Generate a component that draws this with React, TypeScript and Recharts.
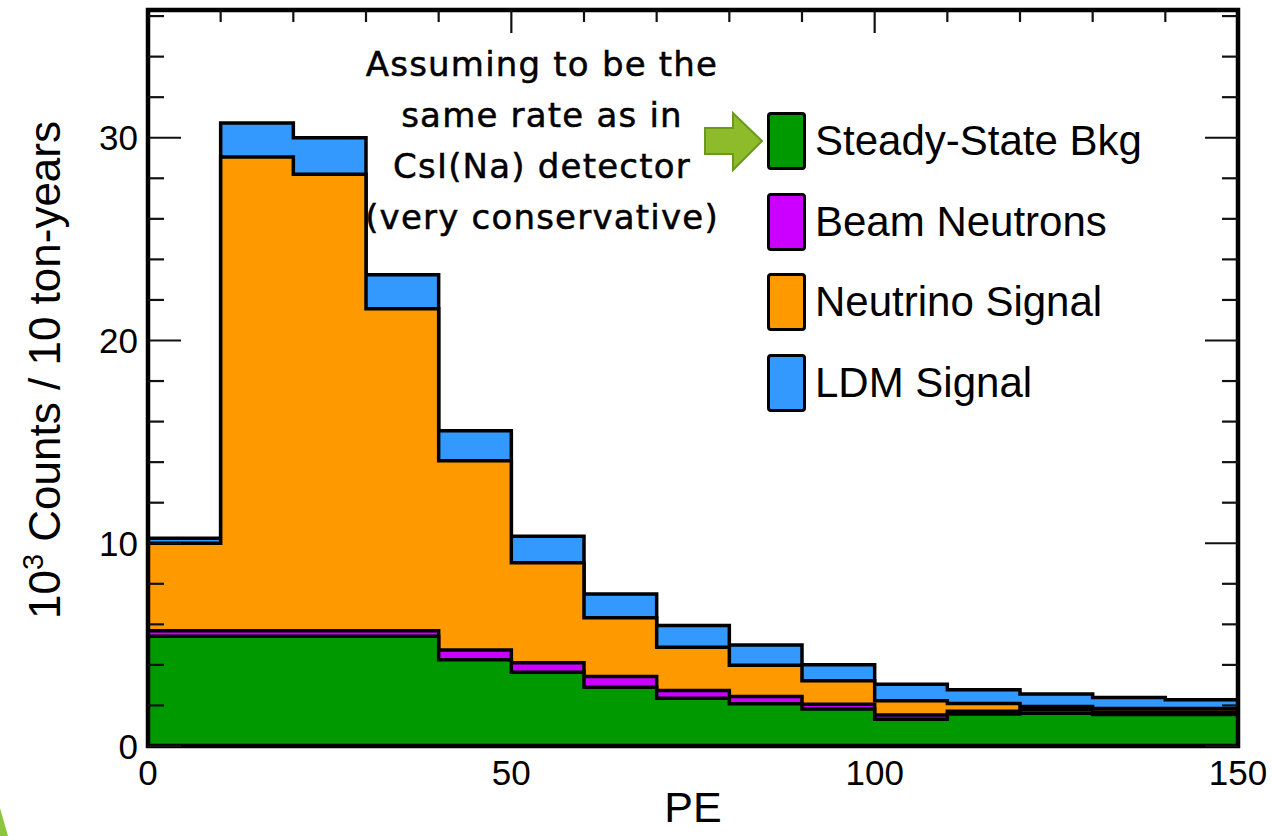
import React from "react";
import { ComposedChart, Area, XAxis, YAxis, ReferenceArea, Legend } from "recharts";

// lower bin edges (PE), bin width 10
const binEdges = [0, 10, 20, 30, 40, 50, 60, 70, 80, 90, 100, 110, 120, 130, 140];
const peMax = 150;

// per-bin contents, 10^3 counts / 10 ton-years
const steadyStateBkg = [5.41, 5.41, 5.41, 5.41, 4.26, 3.64, 2.9, 2.36, 2.08, 1.82, 1.32, 1.58, 1.62, 1.55, 1.55];
const beamNeutrons = [0.27, 0.27, 0.27, 0.27, 0.48, 0.46, 0.53, 0.38, 0.36, 0.24, 0.21, 0.14, 0.18, 0.13, 0.13];
const neutrinoSignal = [4.32, 23.37, 22.52, 15.89, 9.33, 4.94, 2.9, 2.13, 1.54, 1.16, 0.7, 0.38, 0.15, 0.17, 0.17];
const ldmSignal = [0.25, 1.68, 1.8, 1.67, 1.48, 1.31, 1.17, 1.07, 1.0, 0.79, 0.82, 0.67, 0.62, 0.54, 0.43];

const xTicks = [0, 10, 20, 30, 40, 50, 60, 70, 80, 90, 100, 110, 120, 130, 140, 150];
const xLabels = [0, 50, 100, 150];
const yTicks = [0, 2, 4, 6, 8, 10, 12, 14, 16, 18, 20, 22, 24, 26, 28, 30, 32, 34, 36];
const yLabels = [0, 10, 20, 30];
const yMax = 36.3;

const legendNames = ["Steady-State Bkg", "Beam Neutrons", "Neutrino Signal", "LDM Signal"];
const legendColors = ["#009900", "#cc00ff", "#ff9900", "#3399ff"];

const noteLines = ["Assuming to be the", "same rate as in", "CsI(Na) detector", "(very conservative)"];

// stacked cumulative tops, drawn from the largest down like a THStack
const rows = binEdges.map((pe, i) => {
  const bkg = steadyStateBkg[i];
  const beam = bkg + beamNeutrons[i];
  const nu = beam + neutrinoSignal[i];
  const ldm = nu + ldmSignal[i];
  return { pe, bkg, beam, nu, ldm };
});
const data = [...rows, { ...rows[rows.length - 1], pe: peMax }];

const W = 1273;
const H = 836;
const M = { top: 10, right: 35, bottom: 0, left: 0 };
const yAxisW = 148;
const xAxisH = 90;
const plotW = W - M.left - M.right - yAxisW;
const plotH = H - M.top - M.bottom - xAxisH;

const font = "'Liberation Sans', Arial, Helvetica, sans-serif";
const tickColor = "#111";

// ROOT-style frame ticks: drawn inward on both opposite sides
function LeftTick({ x, y, payload }: any) {
  const len = payload.value % 10 === 0 ? 33 : 16;
  return (
    <g>
      <line x1={x} x2={x + len} y1={y} y2={y} stroke={tickColor} strokeWidth={2.2} />
      <line x1={x + plotW} x2={x + plotW - len} y1={y} y2={y} stroke={tickColor} strokeWidth={2.2} />
      {yLabels.includes(payload.value) && (
        <text x={x - 10} y={y} dy="0.36em" textAnchor="end" fontSize={35} fontFamily={font} fill="#000">
          {payload.value}
        </text>
      )}
    </g>
  );
}

function BottomTick({ x, y, payload }: any) {
  const v = payload.value;
  const len = v % 50 === 0 ? 23 : 12;
  const top = y - plotH;
  return (
    <g>
      {v !== 0 && v !== peMax && <line x1={x} x2={x} y1={top} y2={top + len} stroke={tickColor} strokeWidth={2.2} />}
      {xLabels.includes(v) && (
        <text x={x} y={y + 39} textAnchor="middle" fontSize={35} fontFamily={font} fill="#000">
          {v}
        </text>
      )}
    </g>
  );
}

function YTitle({ viewBox }: any) {
  const cx = viewBox.x + 60;
  const cy = viewBox.y + viewBox.height / 2 - 8;
  return (
    <text transform={`rotate(-90 ${cx} ${cy})`} x={cx} y={cy} textAnchor="middle" fontSize={44} fontFamily={font} fill="#000">
      10
      <tspan dy={-17} fontSize={29}>3</tspan>
      <tspan dy={17} fontSize={44}> Counts / 10 ton-years</tspan>
    </text>
  );
}

function XTitle({ viewBox }: any) {
  return (
    <text x={viewBox.x + viewBox.width / 2} y={viewBox.y + 76} textAnchor="middle" fontSize={43} fontFamily={font} fill="#000">
      PE
    </text>
  );
}

function StackLegend() {
  return (
    <div style={{ fontFamily: font }}>
      {legendNames.map((name, i) => (
        <div key={name} style={{ display: "flex", alignItems: "center", height: 58, marginBottom: 22.5 }}>
          <div
            style={{
              width: 33,
              height: 52,
              background: legendColors[i],
              border: "3.5px solid #000",
              borderRadius: 4,
            }}
          />
          <span style={{ fontSize: 42, color: "#000", marginLeft: 9, lineHeight: "58px", whiteSpace: "nowrap" }}>{name}</span>
        </div>
      ))}
    </div>
  );
}

export default function App() {
  return (
    <div style={{ position: "absolute", left: 0, top: 0, width: W, height: H, background: "#fff", fontFamily: font }}>
      <ComposedChart width={W} height={H} data={data} margin={M}>
        <XAxis
          dataKey="pe"
          type="number"
          domain={[0, peMax]}
          ticks={xTicks}
          interval={0}
          height={xAxisH}
          axisLine={false}
          tickLine={false}
          tickSize={0}
          tickMargin={0}
          tick={<BottomTick />}
          label={<XTitle />}
        />
        <YAxis
          type="number"
          domain={[0, yMax]}
          ticks={yTicks}
          interval={0}
          width={yAxisW}
          axisLine={false}
          tickLine={false}
          tickSize={0}
          tickMargin={0}
          tick={<LeftTick />}
          label={<YTitle />}
        />
        <Area type="stepAfter" dataKey="ldm" name={legendNames[3]} fill={legendColors[3]} fillOpacity={1} stroke="#000" strokeWidth={3.5} isAnimationActive={false} />
        <Area type="stepAfter" dataKey="nu" name={legendNames[2]} fill={legendColors[2]} fillOpacity={1} stroke="#000" strokeWidth={3.5} isAnimationActive={false} />
        <Area type="stepAfter" dataKey="beam" name={legendNames[1]} fill={legendColors[1]} fillOpacity={1} stroke="#000" strokeWidth={3.5} isAnimationActive={false} />
        <Area type="stepAfter" dataKey="bkg" name={legendNames[0]} fill={legendColors[0]} fillOpacity={1} stroke="#000" strokeWidth={3.5} isAnimationActive={false} />
        <ReferenceArea x1={0} x2={peMax} y1={0} y2={yMax} fill="none" stroke="#000" strokeWidth={4.5} ifOverflow="visible" />
        <Legend
          layout="horizontal"
          verticalAlign="middle"
          align="center"
          content={<StackLegend />}
          wrapperStyle={{ position: "absolute", left: 767, top: 112, width: 440, height: 320 }}
        />
      </ComposedChart>
      <svg width={W} height={H} style={{ position: "absolute", left: 0, top: 0, pointerEvents: "none" }}>
        {noteLines.map((line, i) => (
          <text
            key={line}
            x={542}
            y={76 + i * 51}
            textAnchor="middle"
            fontSize={34}
            letterSpacing={1.2}
            fontFamily="'DejaVu Sans', Verdana, sans-serif"
            fill="#000"
            stroke="#000"
            strokeWidth={0.5}
          >
            {line}
          </text>
        ))}
        <polygon points="705,128 733,128 733,113 762,141 733,170 733,154 705,154" fill="#8dbb2a" stroke="#6a9a1c" strokeWidth={2} />
        <polygon points="0,808 8,836 0,836" fill="#8cc63f" />
      </svg>
    </div>
  );
}
